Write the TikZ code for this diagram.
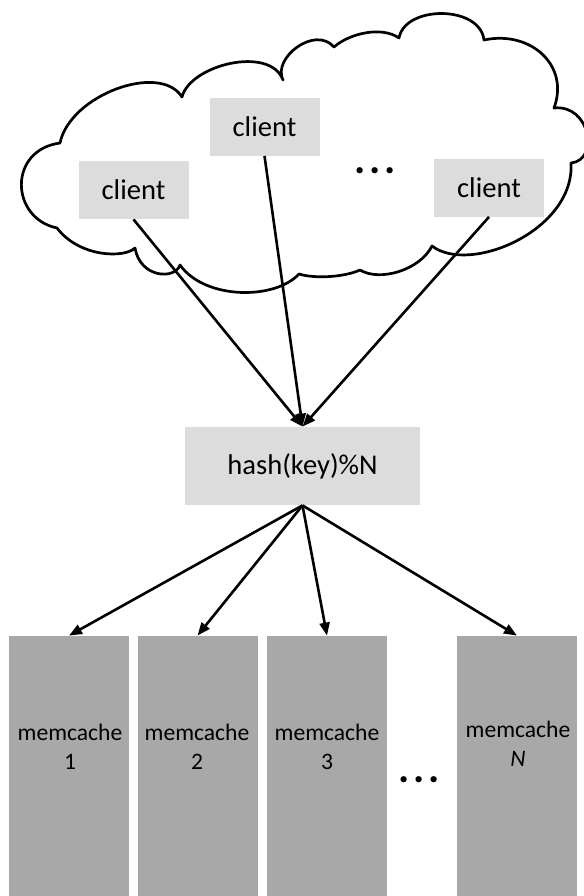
\documentclass[tikz,border=0pt]{standalone}
\usepackage{fontspec}
\setmainfont{Carlito}
\usetikzlibrary{arrows.meta}
\definecolor{boxlight}{RGB}{220,220,220}
\definecolor{boxdark}{RGB}{168,168,168}
\tikzset{
  clientbox/.style={fill=boxlight, minimum width=55pt, minimum height=29pt, inner sep=0pt,
    font=\fontsize{14.3}{17}\selectfont},
  hashbox/.style={fill=boxlight, minimum width=117.5pt, minimum height=39pt, inner sep=0pt,
    font=\fontsize{14.3}{17}\selectfont},
  membox/.style={fill=boxdark, minimum width=60pt, minimum height=132pt, inner sep=0pt},
  memlabel/.style={align=center, inner sep=0pt, font=\fontsize{11.8}{14.5}\selectfont},
  cloudline/.style={line width=1.35pt, line join=round},
  conn/.style={line width=1.3pt, -{Triangle[length=6.5pt,width=5pt]}},
  ellip/.style={inner sep=0pt, font=\fontsize{21}{21}\selectfont\bfseries},
}
\begin{document}
\begin{tikzpicture}[x=0.5pt,y=-0.5pt]
\useasboundingbox (0,0) rectangle (584,896);

% cloud outline, one Bezier bump between each pair of cusps
\draw[cloudline, fill=white]
  (60,143)  .. controls (70,95)   and (160,62)  .. (182,97)
            .. controls (190,65)  and (270,45)  .. (283,80)
            .. controls (272,58)  and (315,25)  .. (334,47)
            .. controls (350,33)  and (382,26)  .. (399,38)
            .. controls (405,5)   and (480,5)   .. (484,40)
            .. controls (530,30)  and (570,65)  .. (554,108)
            .. controls (590,104) and (600,160) .. (571,163)
            .. controls (575,230) and (470,275) .. (432,246)
            .. controls (420,270) and (380,282) .. (360,270)
            .. controls (345,277) and (315,279) .. (299,274)
            .. controls (275,300) and (205,300) .. (180,265)
            .. controls (175,280) and (140,278) .. (135,248)
            .. controls (125,258) and (80,258)  .. (57,228)
            .. controls (10,218)  and (8,150)   .. (60,143) -- cycle;

% clients
\node[clientbox] (c1) at (133.5,190) {client};
\node[clientbox] (c2) at (264.5,126.5) {client};
\node[clientbox] (c3) at (489,187.5) {client};
\node[ellip] (cdots) at (375,171) {.\kern2pt.\kern2pt.};

% hashing step
\node[hashbox] (hash) at (302.5,466) {hash(key)\%N};

% cache servers
\node[membox] (m1) at (69,768) {};
\node[membox] (m2) at (197.5,768) {};
\node[membox] (m3) at (327,768) {};
\node[membox] (mN) at (517,768) {};
\node[memlabel] (t1) at (70,747) {memcache\\1};
\node[memlabel] (t2) at (197,747) {memcache\\2};
\node[memlabel] (t3) at (327,747) {memcache\\3};
\node[memlabel] (tN) at (518,744) {memcache\\\textit{N}};
\node[ellip] (mdots) at (419,780) {.\kern2pt.\kern2pt.};

% requests to the hash function
\draw[conn] (c1.south) -- (hash.north);
\draw[conn] (c2.south) -- (hash.north);
\draw[conn] (c3.south) -- (hash.north);

% hash function to servers
\draw[conn] (hash.south) -- (m1.north);
\draw[conn] (hash.south) -- (m2.north);
\draw[conn] (hash.south) -- (m3.north);
\draw[conn] (hash.south) -- (mN.north);
\end{tikzpicture}
\end{document}
